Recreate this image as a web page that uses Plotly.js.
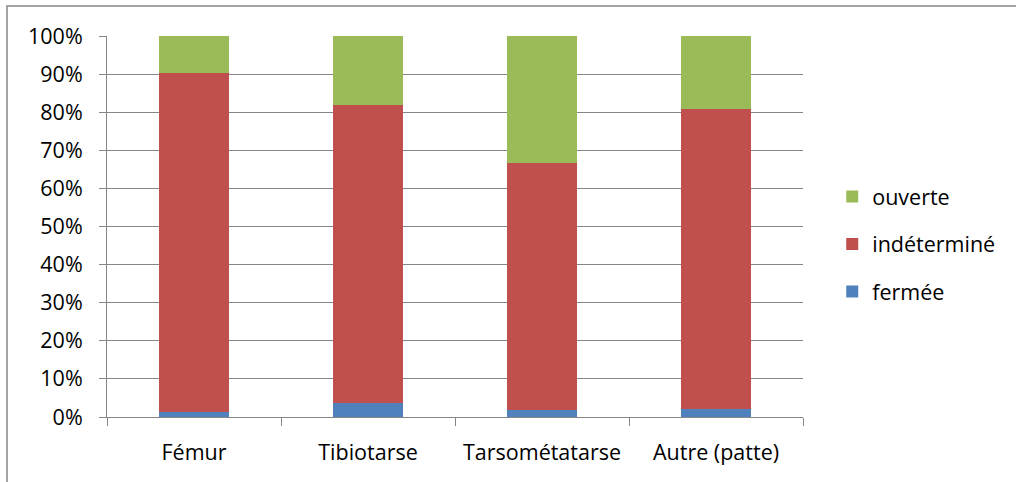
<!DOCTYPE html>
<html>
<head>
<meta charset="utf-8">
<script src="https://cdn.plot.ly/plotly-3.0.1.min.js"></script>
<style>html,body{margin:0;padding:0;background:#fff;}#chart{width:1016px;height:482px;}</style>
</head>
<body>
<div id="chart"></div>
<script>
const categories = ["Fémur", "Tibiotarse", "Tarsométatarse", "Autre (patte)"];
const fermee = [1.2, 3.8, 1.9, 2.2];
const indetermine = [89.0, 78.0, 64.8, 78.7];
const ouverte = [9.8, 18.2, 33.3, 19.1];
const yTicks = [0,10,20,30,40,50,60,70,80,90,100];
const yTickLabels = yTicks.map(v => v + "%");

const FONT = "Open Sans, sans-serif";
const FS = 21.5;
const GRAY = "#868686";

function bar(name, vals, color, group, rank) {
  return {type: "bar", name: name, x: categories, y: vals, legendgroup: group, legendrank: rank,
    marker: {color: color, line: {width: 0}}, hoverinfo: "skip"};
}
const data = [
  bar("fermée", fermee, "#4F81BD", "a", 3),
  bar("indéterminé", indetermine, "#C0504D", "b", 2),
  bar("ouverte", ouverte, "#9BBB59", "c", 1)
];

const layout = {
  width: 1016, height: 482,
  margin: {l: 107, r: 213, t: 36, b: 65, pad: 0},
  paper_bgcolor: "#fff", plot_bgcolor: "#fff",
  barmode: "stack", bargap: 0.6,
  font: {family: FONT, size: FS, color: "#000"},
  xaxis: {
    type: "category", showgrid: false, showline: true, linecolor: GRAY, linewidth: 1,
    ticks: "outside", tickson: "boundaries", ticklen: 8, tickcolor: GRAY, tickwidth: 1,
    ticklabelstandoff: 16,
    tickfont: {family: FONT, size: FS, color: "#000"}, fixedrange: true
  },
  yaxis: {
    range: [0, 100], tickvals: yTicks, ticktext: yTickLabels,
    showgrid: true, gridcolor: GRAY, gridwidth: 1,
    showline: true, linecolor: GRAY, linewidth: 1, zeroline: false,
    ticks: "outside", ticklen: 7, tickcolor: GRAY, tickwidth: 1,
    ticklabelstandoff: 12,
    tickfont: {family: FONT, size: FS, color: "#000"}, fixedrange: true
  },
  legend: {
    x: 1.042, xanchor: "left", y: 0.454, yanchor: "middle",
    traceorder: "grouped", tracegroupgap: 16.5,
    font: {family: FONT, size: FS, color: "#000"},
    bgcolor: "rgba(0,0,0,0)", borderwidth: 0
  },
  shapes: [{
    type: "rect", xref: "paper", yref: "paper",
    x0: (7 - 107) / 696, x1: (1200 - 107) / 696,
    y0: (417 - 600) / 381, y1: (417 - 6) / 381,
    line: {color: GRAY, width: 1.5}, fillcolor: "rgba(0,0,0,0)", layer: "below"
  }],
  showlegend: true
};

Plotly.newPlot("chart", data, layout, {displayModeBar: false, staticPlot: true});
</script>
</body>
</html>
